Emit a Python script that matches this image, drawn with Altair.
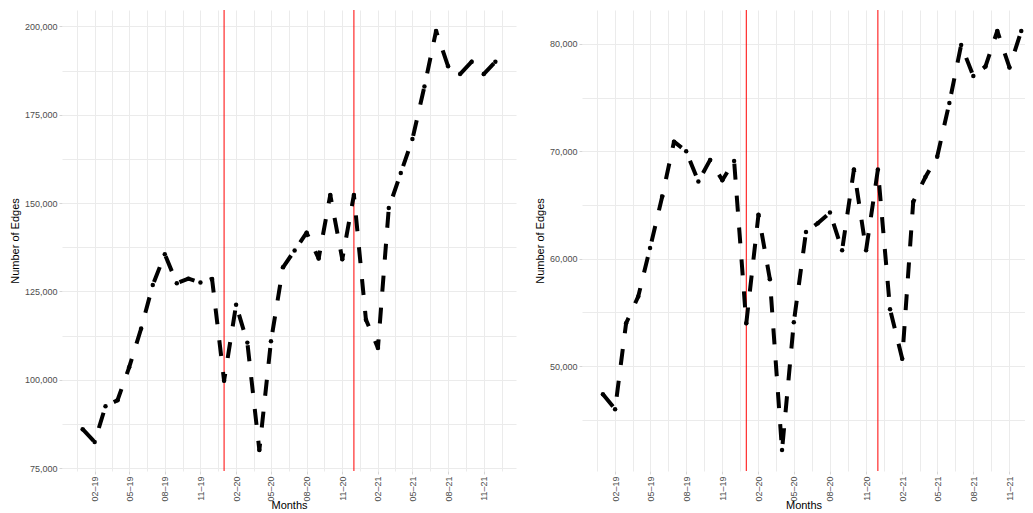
import altair as alt
import pandas as pd
from datetime import datetime

# ---- data -------------------------------------------------------------
months = [f"{y}/{m:02d}/01" for y in (2019, 2020, 2021) for m in range(1, 13)]

edges_left = [86000, 82400, 92500, 94200, 103500, 114500, 126800, 135500, 127300, 128600, 127500, 128500,
              99700, 121200, 110500, 80100, 110900, 131800, 136600, 141600, 134300, 152300, 134100, 152300,
              117000, 109000, 148600, 158500, 168100, 183000, 198700, 188700, 186500, 190000, 186500, 190000]

edges_right = [47400, 46000, 54000, 56500, 61000, 65800, 70900, 70000, 67200, 69200, 67300, 69100,
               54000, 64100, 58100, 42200, 54100, 62500, 63300, 64300, 60800, 68300, 60800, 68300,
               55300, 50700, 65300, 67600, 69500, 74500, 79900, 77000, 77900, 81200, 77800, 81200]

event_months = ["2020/01/01", "2020/12/01"]

left_major_step = 25000
right_major_step = 10000

x_title = "Months"
y_title = "Number of Edges"

# ---- helpers ----------------------------------------------------------
def dt(d):
    return alt.DateTime(year=d.year, month=d.month, date=d.day, hours=d.hour, minutes=d.minute)

t0 = datetime(2019, 1, 1)
t1 = datetime(2021, 12, 1)
span = t1 - t0
x_lo = t0 - span * 0.05
x_hi = t1 + span * 0.05
# the right-hand panel is cut off by the page edge in the reference
x_hi_right = datetime(2021, 12, 10, 13)

majors_all = []
for y in range(2018, 2023):
    for m in (2, 5, 8, 11):
        majors_all.append(datetime(y, m, 1))

GRID = "#EBEBEB"
TICK = "#D6D6D6"
LABEL = "#4D4D4D"


def panel(values, step, width, height, xmax):
    lo_v, hi_v = min(values), max(values)
    rng = hi_v - lo_v
    y_lo = lo_v - 0.05 * rng
    y_hi = hi_v + 0.05 * rng
    half = step / 2
    y_grid = []
    v = (int(y_lo // half) + 1) * half
    while v <= y_hi:
        y_grid.append(v)
        v += half

    x_grid = []
    for a, b in zip(majors_all[:-1], majors_all[1:]):
        mid = a + (b - a) / 2
        for g in (a, mid):
            if x_lo <= g <= xmax:
                x_grid.append(g)
    x_grid = sorted(set(x_grid))

    df = pd.DataFrame({"month": months, "edges": values})
    ev = pd.DataFrame({"month": event_months})

    x_enc = alt.X(
        "month:T",
        title=x_title,
        scale=alt.Scale(domain=[dt(x_lo), dt(xmax)], nice=False),
        axis=alt.Axis(
            values=[dt(g) for g in x_grid],
            labelExpr="date(datum.value) == 1 ? timeFormat(datum.value, '%m\u2013%y') : ''",
            labelAngle=270,
            labelOverlap=False,
            labelFlush=False,
            tickColor={"condition": {"test": "date(datum.value) == 1", "value": TICK},
                       "value": "transparent"},
            tickSize=3,
            labelPadding=2,
            titlePadding=-2,
            domain=False,
            grid=True,
        ),
    )
    y_enc = alt.Y(
        "edges:Q",
        title=y_title,
        scale=alt.Scale(domain=[y_lo, y_hi], nice=False, zero=False),
        axis=alt.Axis(
            values=y_grid,
            labelExpr=f"datum.value % {step} == 0 ? format(datum.value, ',') : ''",
            labelOverlap=False,
            labelFlush=False,
            tickColor={"condition": {"test": f"datum.value % {step} == 0", "value": TICK},
                       "value": "transparent"},
            tickSize=3,
            labelPadding=2,
            titlePadding=4,
            domain=False,
            grid=True,
        ),
    )

    rules = alt.Chart(ev).mark_rule(color="#FF0000", strokeWidth=1).encode(x=x_enc)
    line = alt.Chart(df).mark_line(
        color="black", strokeWidth=4, strokeDash=[16, 16], strokeCap="butt", strokeJoin="round"
    ).encode(x=x_enc, y=y_enc)
    pts = alt.Chart(df).mark_circle(color="black", size=20, opacity=1).encode(x=x_enc, y=y_enc)
    return alt.layer(rules, line, pts).properties(width=width, height=height)


left = panel(edges_left, left_major_step, 454, 461, x_hi)
right = panel(edges_right, right_major_step, 443, 461, x_hi_right)

chart = (
    alt.hconcat(left, right, spacing=18)
    .properties(padding={"left": 1, "top": 1, "right": 0, "bottom": 0})
    .configure_view(stroke=None)
    .configure_axis(
        gridColor=GRID,
        gridWidth=1,
        labelColor=LABEL,
        labelFont="Liberation Sans",
        labelFontSize=9,
        titleFont="Liberation Sans",
        titleFontSize=11,
        titleFontWeight="normal",
        titleColor="black",
    )
)

chart.save("out.html", embed_options={"renderer": "svg", "actions": False})
